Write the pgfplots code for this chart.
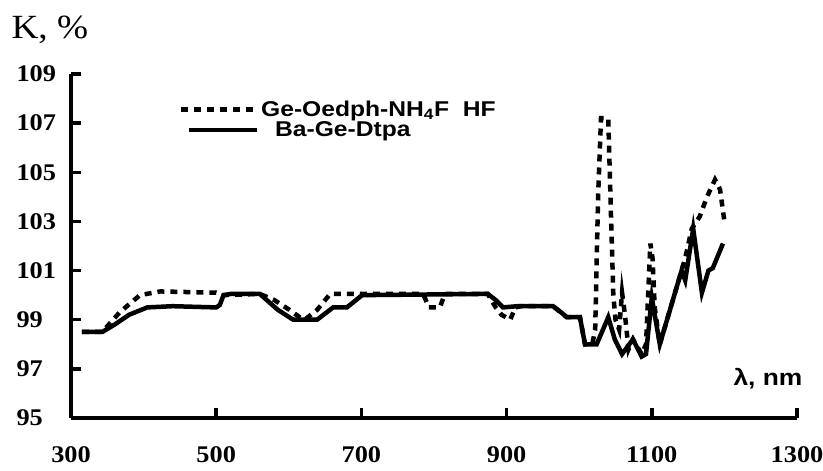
\documentclass[border=0pt]{standalone}
\usepackage{fontspec}
\setmainfont{Liberation Serif}[FakeStretch=1.1]
\newfontfamily\arial{Liberation Sans}[FakeStretch=1.15]
\usepackage{pgfplots}
\pgfplotsset{compat=1.18}
\pgfplotsset{
  legA/.style={legend image code/.code={\draw[##1] (0bp,0bp) -- (72bp,0bp);}},
  legB/.style={legend image code/.code={\draw[##1] (8bp,0bp) -- (76bp,0bp);}},
}
\pgfplotstableread{
x y
315 98.5
343 98.5
360 98.8
380 99.2
405 99.5
440 99.55
500 99.5
505 99.6
510 100.0
520 100.05
560 100.05
585 99.4
606 99.0
639 99.0
661 99.5
680 99.5
701 100.0
874 100.05
885 99.8
895 99.5
915 99.55
964 99.55
975 99.3
983 99.1
1001 99.1
1008 98.0
1024 98.0
1040 99.1
1049 98.2
1059 97.6
1074 98.2
1086 97.5
1092 97.6
1100 99.9
1111 98.0
1141 101.0
1146 100.6
1157 102.7
1169 100.1
1178 101.0
1184 101.1
1198 102.1
}\solid
\pgfplotstableread{
x y
315 98.5
343 98.5
367 99.3
395 100.0
423 100.15
500 100.1
510 100.0
560 100.05
580 99.8
601 99.4
615 99.1
622 99.0
639 99.4
657 100.05
688 100.05
785 100.05
793 99.5
808 99.5
815 100.05
874 100.05
885 99.5
893 99.2
905 99.0
912 99.5
920 99.55
964 99.55
983 99.1
1001 99.1
1008 98.0
1018 98.0
1022 98.6
1026 104.0
1030 107.2
1040 107.2
1044 103.0
1047 100.0
1050 99.0
1055 98.6
1059 100.1
1063 99.2
1068 97.8
1074 98.2
1086 97.6
1092 98.0
1098 102.1
1101 101.5
1104 99.5
1111 98.0
1141 101.0
1146 101.5
1155 102.7
1166 103.2
1176 104.0
1187 104.7
1194 104.3
1200 103.0
}\dashed
\begin{document}
\begin{tikzpicture}[x=1bp,y=1bp]
\path[use as bounding box] (0,0) rectangle (823,471);
\begin{axis}[
  at={(71bp,53bp)}, anchor=south west,
  scale only axis, width=726bp, height=344bp,
  xmin=300, xmax=1300, ymin=95, ymax=109,
  xtick={300,500,...,1300}, ytick={95,97,...,109},
  axis x line*=bottom, axis y line*=left,
  axis line style={-, line width=4bp},
  tick align=inside, major tick length=10bp,
  tick style={line width=3.5bp, black},
  /pgf/number format/assume math mode=true,
  /pgf/number format/set thousands separator={},
  ticklabel style={font=\fontsize{24}{27}\selectfont\bfseries},
  xticklabel style={anchor=center, yshift=-37bp},
  yticklabel style={anchor=west, xshift=-58bp},
  clip=false,
  legend style={at={(axis cs:448,108.0)}, anchor=north west, draw=none, fill=none,
    font=\arial\fontsize{21.5}{24}\selectfont\bfseries, row sep=0bp, inner sep=0bp},
  legend cell align=left,
]
\addplot[black, line width=4.5bp, dash pattern=on 7bp off 6bp, legA] table[x=x,y=y] {\dashed};
\addlegendentry{Ge-Oedph-NH\textsubscript{4}F\ \ HF}
\addplot[black, line width=4.5bp, legB] table[x=x,y=y] {\solid};
\addlegendentry{\hspace{14bp}Ba-Ge-Dtpa}
\end{axis}
\node[anchor=west, font=\fontsize{34}{38}\selectfont] at (8,441) {K, \%};
\node[font=\arial\fontsize{23}{26}\selectfont\bfseries] at (768,92) {λ, nm};
\end{tikzpicture}
\end{document}
